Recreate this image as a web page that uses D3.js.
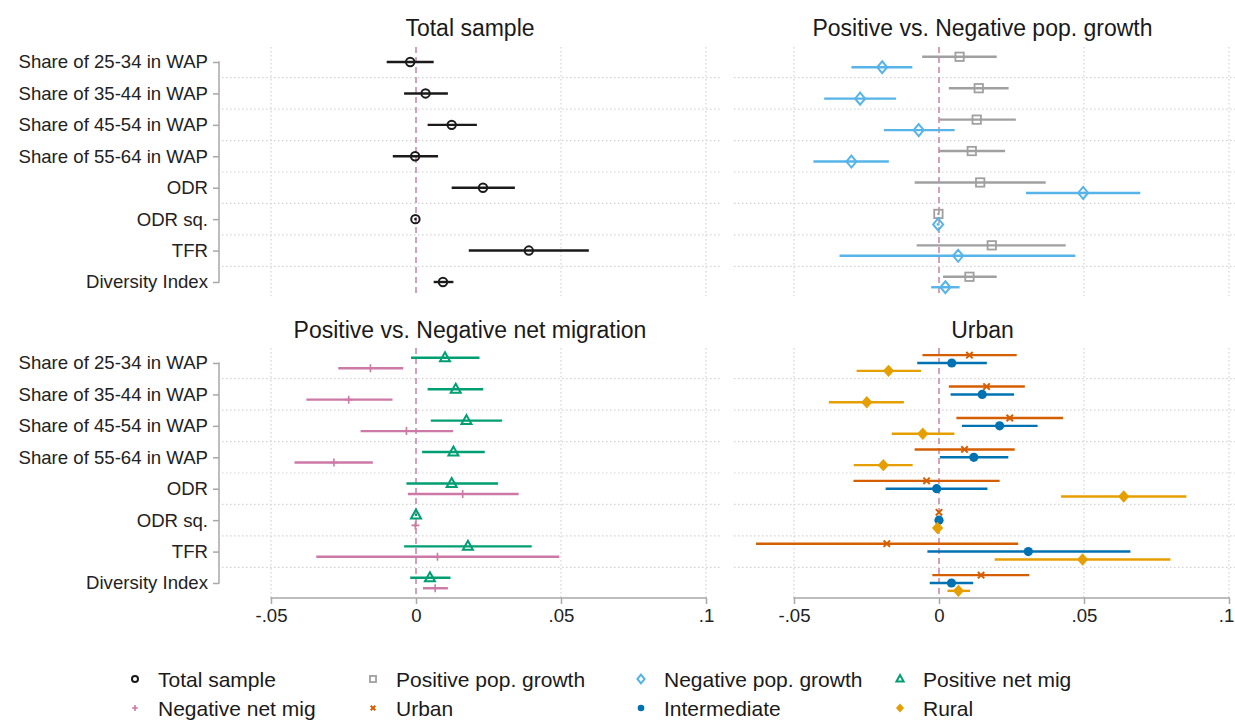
<!DOCTYPE html>
<html>
<head>
<meta charset="utf-8">
<script src="https://cdn.jsdelivr.net/npm/d3@7"></script>
<style>
  html, body { margin: 0; padding: 0; background: #fff; }
  svg { display: block; font-family: "Liberation Sans", Arial, sans-serif; }
</style>
</head>
<body>
<svg id="chart" width="1235" height="720"></svg>
<script>
// ---------------- DATA ----------------
const categories = ["Share of 25-34 in WAP", "Share of 35-44 in WAP", "Share of 45-54 in WAP",
  "Share of 55-64 in WAP", "ODR", "ODR sq.", "TFR", "Diversity Index"];
const xTickValues = [-0.05, 0, 0.05, 0.1];
const xTickLabels = ["-.05", "0", ".05", ".1"];
const panelTitles = ["Total sample", "Positive vs. Negative pop. growth",
  "Positive vs. Negative net migration", "Urban"];

const totalPt = [-0.0020, 0.0033, 0.0123, -0.0003, 0.0231, -0.0002, 0.0389, 0.0093];
const totalLo = [-0.0101, -0.0041, 0.0040, -0.0080, 0.0123, -0.0006, 0.0182, 0.0061];
const totalHi = [0.0061, 0.0110, 0.0210, 0.0076, 0.0341, 0.0002, 0.0596, 0.0129];

const posGrowthPt = [0.0071, 0.0137, 0.0130, 0.0113, 0.0142, -0.0002, 0.0182, 0.0105];
const posGrowthLo = [-0.0058, 0.0034, 0.0000, 0.0000, -0.0084, -0.0006, -0.0077, 0.0014];
const posGrowthHi = [0.0199, 0.0240, 0.0265, 0.0228, 0.0368, 0.0002, 0.0437, 0.0199];

const negGrowthPt = [-0.0196, -0.0272, -0.0070, -0.0302, 0.0497, -0.0003, 0.0066, 0.0022];
const negGrowthLo = [-0.0302, -0.0396, -0.0190, -0.0433, 0.0300, -0.0008, -0.0343, -0.0027];
const negGrowthHi = [-0.0092, -0.0148, 0.0054, -0.0173, 0.0694, 0.0002, 0.0470, 0.0071];

const posMigPt = [0.0100, 0.0137, 0.0174, 0.0129, 0.0123, 0.0000, 0.0179, 0.0048];
const posMigLo = [-0.0017, 0.0040, 0.0051, 0.0021, -0.0033, -0.0004, -0.0041, -0.0020];
const posMigHi = [0.0219, 0.0232, 0.0297, 0.0237, 0.0283, 0.0004, 0.0399, 0.0119];

const negMigPt = [-0.0157, -0.0232, -0.0033, -0.0283, 0.0161, -0.0002, 0.0074, 0.0066];
const negMigLo = [-0.0268, -0.0378, -0.0191, -0.0419, -0.0028, -0.0006, -0.0344, 0.0024];
const negMigHi = [-0.0044, -0.0081, 0.0128, -0.0149, 0.0354, 0.0002, 0.0494, 0.0110];

const urbanPt = [0.0105, 0.0164, 0.0244, 0.0088, -0.0043, 0.0000, -0.0180, 0.0145];
const urbanLo = [-0.0057, 0.0034, 0.0060, -0.0084, -0.0295, -0.0003, -0.0631, -0.0023];
const urbanHi = [0.0268, 0.0296, 0.0428, 0.0261, 0.0209, 0.0003, 0.0273, 0.0311];

const interPt = [0.0044, 0.0149, 0.0209, 0.0120, -0.0008, 0.0000, 0.0308, 0.0043];
const interLo = [-0.0075, 0.0040, 0.0079, 0.0003, -0.0184, -0.0003, -0.0040, -0.0032];
const interHi = [0.0165, 0.0259, 0.0340, 0.0239, 0.0167, 0.0003, 0.0660, 0.0118];

const ruralPt = [-0.0174, -0.0249, -0.0056, -0.0192, 0.0637, -0.0005, 0.0495, 0.0067];
const ruralLo = [-0.0284, -0.0380, -0.0163, -0.0294, 0.0421, -0.0009, 0.0192, 0.0029];
const ruralHi = [-0.0062, -0.0121, 0.0053, -0.0091, 0.0853, -0.0001, 0.0798, 0.0107];

const legendLabels = ["Total sample", "Positive pop. growth", "Negative pop. growth", "Positive net mig",
  "Negative net mig", "Urban", "Intermediate", "Rural"];

// ---------------- STYLE ----------------
const series = {
  total:     {name: "Total sample",         color: "#1a1a1a", shape: "circleO",  pt: totalPt,     lo: totalLo,     hi: totalHi},
  posGrowth: {name: "Positive pop. growth", color: "#a0a0a0", shape: "squareO",  pt: posGrowthPt, lo: posGrowthLo, hi: posGrowthHi},
  negGrowth: {name: "Negative pop. growth", color: "#56b4e9", shape: "diamondO", pt: negGrowthPt, lo: negGrowthLo, hi: negGrowthHi},
  posMig:    {name: "Positive net mig",     color: "#009e73", shape: "triangleO",pt: posMigPt,    lo: posMigLo,    hi: posMigHi},
  negMig:    {name: "Negative net mig",     color: "#cc79a7", shape: "plus",     pt: negMigPt,    lo: negMigLo,    hi: negMigHi},
  urban:     {name: "Urban",                color: "#d55e00", shape: "x",        pt: urbanPt,     lo: urbanLo,     hi: urbanHi},
  inter:     {name: "Intermediate",         color: "#0072b2", shape: "circleF",  pt: interPt,     lo: interLo,     hi: interHi},
  rural:     {name: "Rural",                color: "#e69f00", shape: "diamondF", pt: ruralPt,     lo: ruralLo,     hi: ruralHi}
};

const panels = [
  {title: panelTitles[0], keys: ["total"],               x0: 271, x1: 706,  yTop: 62,  yBot: 282, regL: 222, regR: 722,  regT: 47,  regB: 296, labels: true,  xaxis: false, titleY: 36},
  {title: panelTitles[1], keys: ["posGrowth","negGrowth"], x0: 794, x1: 1229, yTop: 62,  yBot: 282, regL: 734, regR: 1235, regT: 47,  regB: 296, labels: false, xaxis: false, titleY: 36},
  {title: panelTitles[2], keys: ["posMig","negMig"],      x0: 271, x1: 706,  yTop: 363, yBot: 583, regL: 222, regR: 722,  regT: 348, regB: 598, labels: true,  xaxis: true,  titleY: 338},
  {title: panelTitles[3], keys: ["urban","inter","rural"], x0: 794, x1: 1229, yTop: 363, yBot: 583, regL: 734, regR: 1235, regT: 348, regB: 598, labels: false, xaxis: true,  titleY: 338}
];

const svg = d3.select("#chart");

function drawMarker(g, shape, color, x, y, s) {
  switch (shape) {
    case "circleO":
      g.append("circle").attr("cx", x).attr("cy", y).attr("r", 4.2*s)
        .attr("fill", "none").attr("stroke", color).attr("stroke-width", 2);
      break;
    case "circleF":
      g.append("circle").attr("cx", x).attr("cy", y).attr("r", 4.6*s).attr("fill", color);
      break;
    case "squareO":
      g.append("rect").attr("x", x-4.2*s).attr("y", y-4.2*s).attr("width", 8.4*s).attr("height", 8.4*s)
        .attr("fill", "none").attr("stroke", color).attr("stroke-width", 1.8);
      break;
    case "diamondO":
      g.append("path").attr("d", `M${x},${y-6*s}L${x+5*s},${y}L${x},${y+6*s}L${x-5*s},${y}Z`)
        .attr("fill", "none").attr("stroke", color).attr("stroke-width", 2);
      break;
    case "diamondF":
      g.append("path").attr("d", `M${x},${y-6.2*s}L${x+5.6*s},${y}L${x},${y+6.2*s}L${x-5.6*s},${y}Z`)
        .attr("fill", color);
      break;
    case "triangleO":
      g.append("path").attr("d", `M${x},${y-5.5*s}L${x+5*s},${y+3.5*s}L${x-5*s},${y+3.5*s}Z`)
        .attr("fill", "none").attr("stroke", color).attr("stroke-width", 2);
      break;
    case "plus":
      g.append("path").attr("d", `M${x-4*s},${y}H${x+4*s}M${x},${y-4*s}V${y+4*s}`)
        .attr("stroke", color).attr("stroke-width", 1.6);
      break;
    case "x":
      g.append("path").attr("d", `M${x-3.2*s},${y-3.2*s}L${x+3.2*s},${y+3.2*s}M${x-3.2*s},${y+3.2*s}L${x+3.2*s},${y-3.2*s}`)
        .attr("stroke", color).attr("stroke-width", 2);
      break;
  }
}

const gridColor = "#d4d4d4";
const axisColor = "#a8a8a8";

panels.forEach(p => {
  const g = svg.append("g");
  const x = d3.scaleLinear().domain([-0.05, 0.1]).range([p.x0, p.x1]);
  const y = d3.scalePoint().domain(categories).range([p.yTop, p.yBot]);
  const step = y.step();

  for (let i = 0; i < categories.length - 1; i++) {
    const yy = (y(categories[i]) + y(categories[i+1])) / 2;
    g.append("line").attr("x1", p.regL).attr("x2", p.regR).attr("y1", yy).attr("y2", yy)
      .attr("stroke", gridColor).attr("stroke-width", 1.2).attr("stroke-dasharray", "1.5,2.5");
  }
  xTickValues.filter(v => v !== 0).forEach(v => {
    g.append("line").attr("x1", x(v)).attr("x2", x(v)).attr("y1", p.regT).attr("y2", p.regB)
      .attr("stroke", gridColor).attr("stroke-width", 1.2).attr("stroke-dasharray", "1.5,2.5");
  });
  g.append("line").attr("x1", x(0)).attr("x2", x(0)).attr("y1", p.regT).attr("y2", p.regB)
    .attr("stroke", "#c98aa8").attr("stroke-width", 1.6).attr("stroke-dasharray", "6,4");

  if (p.labels) {
    const ax = d3.axisLeft(y).tickSize(6).tickPadding(5);
    const ag = g.append("g").attr("transform", `translate(219,0)`).call(ax);
    ag.select(".domain").attr("d", `M-0.5,${p.yTop}H0V${p.yBot}H-0.5`).attr("stroke", axisColor).attr("stroke-width", 1.5);
    ag.selectAll(".tick line").attr("stroke", axisColor).attr("stroke-width", 1.5);
    ag.selectAll(".tick text").attr("font-size", 18.6).attr("fill", "#222")
      .attr("font-family", "Liberation Sans, Arial, sans-serif");
  }
  if (p.xaxis) {
    const ax = d3.axisBottom(x).tickValues(xTickValues).tickFormat((d, i) => xTickLabels[i]).tickSize(6).tickPadding(5);
    const ag = g.append("g").attr("transform", `translate(0,${p.regB})`).call(ax);
    ag.select(".domain").attr("d", `M${p.x0},0.5V0H${p.x1}V0.5`).attr("stroke", axisColor).attr("stroke-width", 1.5);
    ag.selectAll(".tick line").attr("stroke", axisColor).attr("stroke-width", 1.5);
    ag.selectAll(".tick text").attr("font-size", 18.6).attr("fill", "#222")
      .attr("font-family", "Liberation Sans, Arial, sans-serif")
      .attr("dx", (d, i) => (p.x1 > 1200 && i === xTickValues.length - 1) ? -3 : 0);
  }

  g.append("text").attr("x", (p.regL + p.regR) / 2 - 2).attr("y", p.titleY).attr("text-anchor", "middle")
    .attr("font-size", 23).attr("fill", "#1a1a1a").text(p.title);

  const n = p.keys.length;
  const offsets = n === 1 ? [0] : n === 2 ? [-step/6, step/6] : [-step/4, 0, step/4];
  p.keys.forEach((k, si) => {
    const s = series[k];
    const sg = g.append("g");
    categories.forEach((c, i) => {
      const yy = y(c) + offsets[si];
      sg.append("line").attr("x1", x(s.lo[i])).attr("x2", x(s.hi[i])).attr("y1", yy).attr("y2", yy)
        .attr("stroke", s.color).attr("stroke-width", 2.4);
    });
    categories.forEach((c, i) => {
      const yy = y(c) + offsets[si];
      drawMarker(sg, s.shape, s.color, x(s.pt[i]), yy, 1);
    });
  });
});

// ---------------- LEGEND ----------------
const legKeys = ["total", "posGrowth", "negGrowth", "posMig", "negMig", "urban", "inter", "rural"];
const legMarkerX = [135, 373, 641, 900];
const legRowY = [679, 708];
const lg = svg.append("g");
legKeys.forEach((k, i) => {
  const col = i % 4, row = Math.floor(i / 4);
  const s = series[k];
  const mx = legMarkerX[col], my = legRowY[row];
  drawMarker(lg, s.shape, s.color, mx, my, 0.72);
  lg.append("text").attr("x", mx + 23).attr("y", my + 7.5).attr("font-size", 21)
    .attr("fill", "#1a1a1a").text(legendLabels[i]);
});
</script>
</body>
</html>
